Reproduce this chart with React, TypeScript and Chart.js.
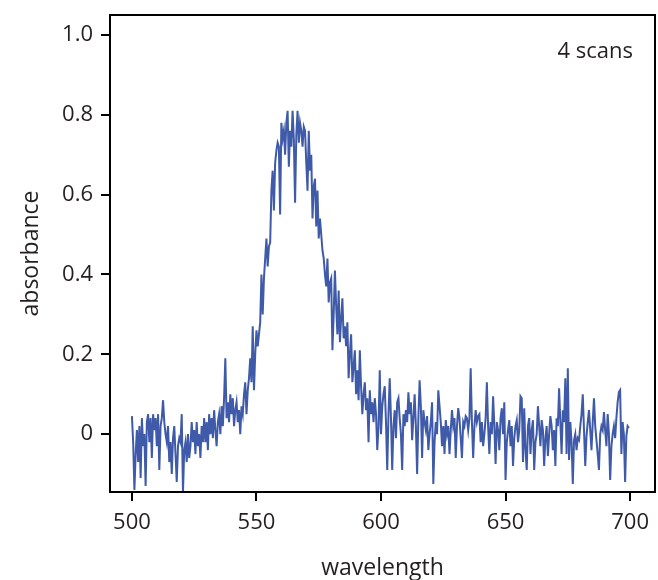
import React, { useEffect, useRef } from "react";
import { Chart, registerables } from "chart.js";

Chart.register(...registerables);

// wavelength grid: 500 nm start, 0.5 nm spacing (index based)
const START_NM = 500;
const STEP_NM = 0.5;

const absorbance: number[] = [
  // 500-510
  0.045, -0.02, -0.14, -0.05, 0.01, -0.07, 0.02, -0.11, 0.04, -0.03,
  0.0, -0.13, 0.03, 0.05, -0.02, 0.04, -0.06, 0.05, 0.01, 0.04,
  // 510-520
  -0.03, 0.05, -0.09, 0.02, 0.04, 0.085, 0.03, 0.0, -0.02, 0.02,
  -0.07, -0.02, -0.1, -0.01, 0.02, -0.05, -0.12, -0.03, -0.01, -0.02,
  // 520-530
  0.05, -0.145, -0.04, -0.02, -0.07, 0.0, -0.06, -0.03, 0.03, -0.02,
  0.01, -0.05, 0.03, -0.03, 0.0, -0.06, 0.02, -0.02, 0.04, -0.02,
  // 530-540
  0.03, -0.04, 0.05, 0.0, 0.04, -0.01, 0.06, 0.01, -0.03, 0.03,
  0.05, 0.0, 0.07, 0.02, 0.09, 0.19, 0.04, 0.08, 0.03, 0.1,
  // 540-550
  0.05, 0.09, 0.02, 0.06, 0.08, 0.03, 0.06, 0.0, 0.07, 0.05,
  0.1, 0.13, 0.05, 0.11, 0.14, 0.19, 0.13, 0.27, 0.11, 0.2,
  // 550-560
  0.26, 0.22, 0.25, 0.28, 0.4, 0.3, 0.39, 0.44, 0.49, 0.42,
  0.47, 0.48, 0.61, 0.66, 0.56, 0.68, 0.71, 0.73, 0.72, 0.55,
  // 560-570
  0.78, 0.74, 0.76, 0.7, 0.78, 0.81, 0.67, 0.76, 0.72, 0.81,
  0.74, 0.58, 0.75, 0.81, 0.73, 0.78, 0.76, 0.72, 0.77, 0.76,
  // 570-580
  0.68, 0.61, 0.76, 0.66, 0.7, 0.54, 0.62, 0.64, 0.52, 0.61,
  0.49, 0.54, 0.5, 0.46, 0.44, 0.4, 0.37, 0.44, 0.33, 0.38,
  // 580-590
  0.39, 0.21, 0.3, 0.41, 0.32, 0.25, 0.36, 0.23, 0.29, 0.34,
  0.24, 0.27, 0.22, 0.28, 0.14, 0.2, 0.25, 0.13, 0.17, 0.21,
  // 590-600
  0.1, 0.16, 0.085, 0.21, 0.12, 0.05, 0.1, 0.13, 0.06, 0.09,
  -0.02, 0.11, 0.05, 0.08, 0.03, 0.09, 0.05, -0.04, 0.02, 0.16,
  // 600-610
  0.0, 0.07, 0.1, 0.12, 0.03, -0.09, 0.05, 0.14, 0.04, -0.09,
  0.02, 0.06, -0.01, 0.08, 0.09, 0.04, 0.0, -0.09, 0.05, 0.02,
  // 610-620
  0.06, 0.03, 0.105, 0.05, 0.08, -0.015, 0.04, 0.1, 0.02, -0.1,
  0.04, 0.135, 0.07, -0.06, 0.06, 0.03, 0.01, 0.045, -0.04, 0.0,
  // 620-630
  0.03, 0.08, -0.125, -0.02, 0.03, 0.0, 0.11, 0.07, 0.03, -0.03,
  0.02, -0.05, 0.035, 0.0, 0.02, -0.05, 0.01, 0.06, 0.02, 0.04,
  // 630-640
  -0.06, 0.02, 0.065, 0.04, -0.01, -0.06, 0.03, 0.02, 0.045, 0.04,
  0.01, 0.04, 0.165, 0.03, -0.06, 0.02, 0.06, 0.03, 0.045, 0.05,
  // 640-650
  -0.02, 0.03, -0.03, 0.0, 0.04, 0.13, 0.02, -0.05, 0.03, 0.0,
  0.095, 0.02, -0.075, 0.03, 0.01, -0.04, 0.04, 0.065, 0.0, 0.08,
  // 650-660
  -0.115, -0.02, 0.01, 0.035, -0.03, 0.02, -0.08, -0.01, 0.02, 0.035,
  -0.02, 0.01, 0.095, 0.09, -0.07, 0.065, -0.04, -0.09, 0.02, 0.04,
  // 660-670
  -0.05, 0.01, 0.035, -0.09, -0.02, 0.0, 0.07, 0.02, -0.03, 0.035,
  0.01, -0.08, -0.01, 0.02, -0.055, 0.0, 0.045, 0.02, -0.04, 0.01,
  // 670-680
  -0.08, 0.04, 0.02, 0.115, 0.03, -0.05, 0.06, 0.03, 0.14, -0.05,
  0.165, -0.065, 0.03, -0.02, -0.125, -0.015, 0.0, -0.04, -0.01, -0.015,
  // 680-690
  0.02, 0.05, 0.1, 0.01, -0.08, -0.005, 0.03, 0.06, 0.01, -0.04,
  0.03, 0.09, 0.02, -0.015, -0.05, -0.09, 0.0, 0.02, 0.01, 0.055,
  // 690-700
  0.01, -0.03, 0.05, 0.0, -0.115, -0.03, 0.0, 0.02, -0.01, 0.04,
  0.08, 0.105, 0.11, -0.05, 0.03, 0.0, -0.12, -0.005, 0.02, 0.015,
];

const wavelengths: number[] = absorbance.map((_, i) => START_NM + i * STEP_NM);

const xTicks = [500, 550, 600, 650, 700];
const yTicks = [0, 0.2, 0.4, 0.6, 0.8, 1.0];
const annotation = "4 scans";

const FONT = "'Open Sans', 'Noto Sans', sans-serif";
const TEXT = "#231f20";

const boxPlugin = {
  id: "boxAndNote",
  afterDraw(chart: any) {
    const { ctx, chartArea } = chart;
    ctx.save();
    ctx.strokeStyle = "#000";
    ctx.lineWidth = 2;
    ctx.strokeRect(chartArea.left, chartArea.top, chartArea.right - chartArea.left, chartArea.bottom - chartArea.top);
    ctx.fillStyle = TEXT;
    ctx.font = `22px ${FONT}`;
    ctx.textAlign = "right";
    ctx.textBaseline = "middle";
    ctx.fillText(annotation, chartArea.right - 22, chartArea.top + 37);
    ctx.restore();
  },
};

export default function App() {
  const ref = useRef<HTMLCanvasElement>(null);
  useEffect(() => {
    if (!ref.current) return;
    const chart = new Chart(ref.current, {
      type: "line",
      data: {
        datasets: [
          {
            data: wavelengths.map((x, i) => ({ x, y: absorbance[i] })),
            borderColor: "#3f5aa9",
            borderWidth: 2,
            pointRadius: 0,
            tension: 0,
            fill: false,
          },
        ],
      },
      plugins: [boxPlugin],
      options: {
        animation: false,
        responsive: false,
        maintainAspectRatio: false,
        layout: { padding: { top: 15, right: 3, left: 0, bottom: 0 } },
        plugins: { legend: { display: false }, tooltip: { enabled: false } },
        scales: {
          x: {
            type: "linear",
            min: 491.2,
            max: 710,
            afterFit: (s: any) => {
              s.height = 88;
              s.paddingLeft = 0;
              s.paddingRight = 0;
            },
            afterBuildTicks: (s: any) => {
              s.ticks = xTicks.map((v) => ({ value: v }));
            },
            ticks: {
              includeBounds: false,
              padding: 9,
              color: TEXT,
              font: { family: FONT, size: 22 },
              maxRotation: 0,
            },
            grid: {
              display: true,
              drawOnChartArea: false,
              drawTicks: true,
              tickLength: 9,
              color: "#000",
              lineWidth: 2,
            },
            border: { display: true, color: "#000", width: 2 },
            title: {
              display: true,
              text: "wavelength",
              color: TEXT,
              font: { family: FONT, size: 23 },
              padding: { top: 0, bottom: -2 },
            },
          },
          y: {
            type: "linear",
            min: -0.145,
            max: 1.05,
            afterFit: (s: any) => {
              s.width = 110;
              s.paddingTop = 0;
              s.paddingBottom = 0;
            },
            afterBuildTicks: (s: any) => {
              s.ticks = yTicks.map((v) => ({ value: v }));
            },
            ticks: {
              includeBounds: false,
              padding: 8,
              color: TEXT,
              font: { family: FONT, size: 22 },
              callback: (v: any) => (Number(v) === 0 ? "0" : Number(v).toFixed(1)),
            },
            grid: {
              display: true,
              drawOnChartArea: false,
              drawTicks: true,
              tickLength: 9,
              color: "#000",
              lineWidth: 2,
            },
            border: { display: true, color: "#000", width: 2 },
            title: {
              display: true,
              text: "absorbance",
              color: TEXT,
              font: { family: FONT, size: 23 },
              padding: { top: 18, bottom: 0 },
            },
          },
        },
      },
    });
    return () => chart.destroy();
  }, []);
  return (
    <div style={{ position: "absolute", left: 0, top: 0, width: 658, height: 580, background: "#fff" }}>
      <canvas ref={ref} width={658} height={580} style={{ width: 658, height: 580, display: "block" }} />
    </div>
  );
}
